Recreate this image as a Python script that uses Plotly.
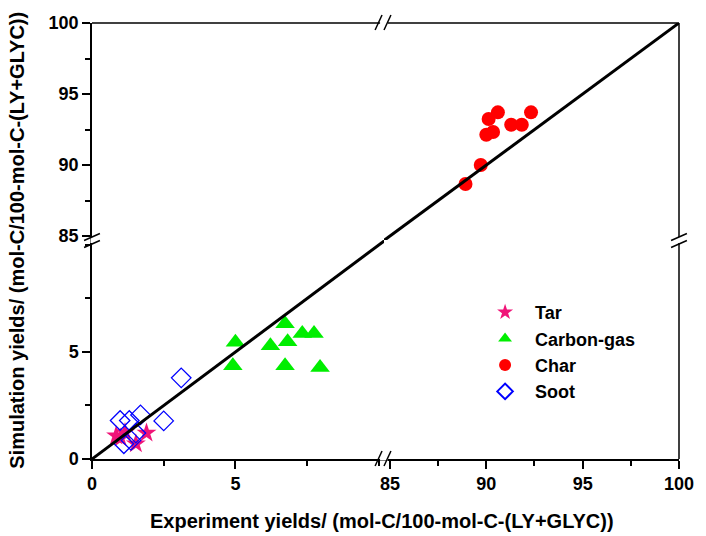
import plotly.graph_objects as go

# ---------------- data ----------------
tar_x = [0.84, 1.15, 1.90, 1.53, 1.00]
tar_y = [1.09, 1.24, 1.21, 0.71, 0.98]

cgas_x = [5.00, 4.91, 6.73, 6.22, 6.82, 7.33, 7.74, 6.73, 7.95]
cgas_y = [5.45, 4.36, 6.32, 5.29, 5.48, 5.86, 5.86, 4.36, 4.28]

char_x = [92.32, 90.60, 90.12, 91.29, 91.84, 90.35, 90.00, 89.71, 88.92]
char_y = [93.71, 93.71, 93.24, 92.84, 92.84, 92.32, 92.13, 90.00, 88.66]

soot_x = [3.11, 0.98, 1.30, 1.69, 2.50, 1.53, 1.36, 1.11]
soot_y = [3.79, 1.80, 1.80, 2.06, 1.78, 1.21, 0.87, 0.71]

# y = x reference line (low and high segments)
diag_low = [0, 11]
diag_high = [84, 100]

x_low_range = [0, 10.18]
x_high_range = [84.69, 100]
y_low_range = [0, 10.23]
y_high_range = [84.72, 100]
low_ticks = [0, 5]
high_ticks = [85, 90, 95, 100]

# ---------------- layout geometry ----------------
W, H = 706, 536
PL, PR, PT, PB = 92, 685, 23, 459
PW, PH = PR - PL, PB - PT
XB, YB = 387, 240   # break positions in pixels

def px(x):
    return (x - PL) / PW

def py(y):
    return (PB - y) / PH

x_low_dom = [0, px(XB)]
x_high_dom = [px(XB), 1]
y_low_dom = [0, py(YB)]
y_high_dom = [py(YB), 1]

FONT = "Arial, Liberation Sans, Helvetica, sans-serif"

fig = go.Figure()

fig.add_trace(go.Scatter(x=tar_x, y=tar_y, mode="markers", name="Tar",
                         xaxis="x", yaxis="y",
                         marker=dict(symbol="star", size=15, color="#F01478",
                                     line=dict(width=0))))
fig.add_trace(go.Scatter(x=cgas_x, y=cgas_y, mode="markers", name="Carbon-gas",
                         xaxis="x", yaxis="y",
                         marker=dict(symbol="triangle-up", size=17, color="#00EE00",
                                     line=dict(width=0))))
fig.add_trace(go.Scatter(x=char_x, y=char_y, mode="markers", name="Char",
                         xaxis="x2", yaxis="y2",
                         marker=dict(symbol="circle", size=14, color="#FF0000",
                                     line=dict(width=0))))
fig.add_trace(go.Scatter(x=soot_x, y=soot_y, mode="markers", name="Soot",
                         xaxis="x", yaxis="y",
                         marker=dict(symbol="diamond-open", size=15, color="#0000FF",
                                     line=dict(width=1.3, color="#0000FF"))))

fig.add_trace(go.Scatter(x=diag_low, y=diag_low, mode="lines", showlegend=False,
                         xaxis="x", yaxis="y", line=dict(color="black", width=3)))
fig.add_trace(go.Scatter(x=diag_high, y=diag_high, mode="lines", showlegend=False,
                         xaxis="x2", yaxis="y2", line=dict(color="black", width=3)))

axis_common = dict(showline=True, linecolor="black", linewidth=1.5,
                   ticks="outside", ticklen=8, tickwidth=1.5, tickcolor="black",
                   showgrid=False, zeroline=False,
                   tickfont=dict(family=FONT, size=18, color="black", weight="bold"),
                   minor=dict(ticks="outside", ticklen=5, tickwidth=1.5,
                              tickcolor="black", dtick=2.5, showgrid=False))

fig.update_layout(
    width=W, height=H,
    margin=dict(l=PL, r=W - PR, t=PT, b=H - PB),
    paper_bgcolor="white", plot_bgcolor="white",
    xaxis=dict(domain=x_low_dom, range=x_low_range, anchor="y",
               tickvals=low_ticks, **axis_common),
    xaxis2=dict(domain=x_high_dom, range=x_high_range, anchor="y",
                tickvals=high_ticks, **axis_common),
    yaxis=dict(domain=y_low_dom, range=y_low_range, anchor="x",
               tickvals=low_ticks, **axis_common),
    yaxis2=dict(domain=y_high_dom, range=y_high_range, anchor="x",
                tickvals=high_ticks, **axis_common),
    showlegend=True,
    legend=dict(x=px(479), y=py(294), xanchor="left", yanchor="top",
                bgcolor="rgba(0,0,0,0)", borderwidth=0, itemwidth=50,
                font=dict(family=FONT, size=18, color="black", weight="bold"),
                tracegroupgap=0, itemsizing="constant"),
)

fig.add_annotation(text="<b>Experiment yields/ (mol-C/100-mol-C-(LY+GLYC))</b>",
                   xref="paper", yref="paper", x=px(385), y=py(521),
                   xanchor="center", yanchor="middle", showarrow=False,
                   font=dict(family=FONT, size=20, color="black"))
fig.add_annotation(text="<b>Simulation yields/ (mol-C/100-mol-C-(LY+GLYC))</b>",
                   xref="paper", yref="paper", x=px(16), y=py(240),
                   xanchor="center", yanchor="middle", showarrow=False, textangle=-90,
                   font=dict(family=FONT, size=20, color="black"))

shapes = []
LW = dict(color="black", width=1.5)
shapes.append(dict(type="line", xref="paper", yref="paper", x0=0, x1=1, y0=1, y1=1, line=LW))
shapes.append(dict(type="line", xref="paper", yref="paper", x0=1, x1=1, y0=0, y1=1, line=LW))

def seg(x0, y0, x1, y1, color="black", width=1.5):
    shapes.append(dict(type="line", xref="paper", yref="paper",
                       x0=px(x0), y0=py(y0), x1=px(x1), y1=py(y1),
                       line=dict(color=color, width=width)))

# break marks "//" with a white gap between them
for yy in (PB, PT):
    seg(XB - 4, yy, XB + 4, yy, color="white", width=3)
    seg(XB - 9, yy + 7, XB - 2, yy - 8)
    seg(XB, yy + 7, XB + 7, yy - 8)
for xx in (PL, PR):
    seg(xx, YB - 3, xx, YB + 3, color="white", width=3)
    seg(xx - 8, YB + 0.5, xx + 8, YB - 6.5)
    seg(xx - 8, YB + 7.5, xx + 8, YB + 0.5)

fig.update_layout(shapes=shapes)

fig.write_html("out.html")
